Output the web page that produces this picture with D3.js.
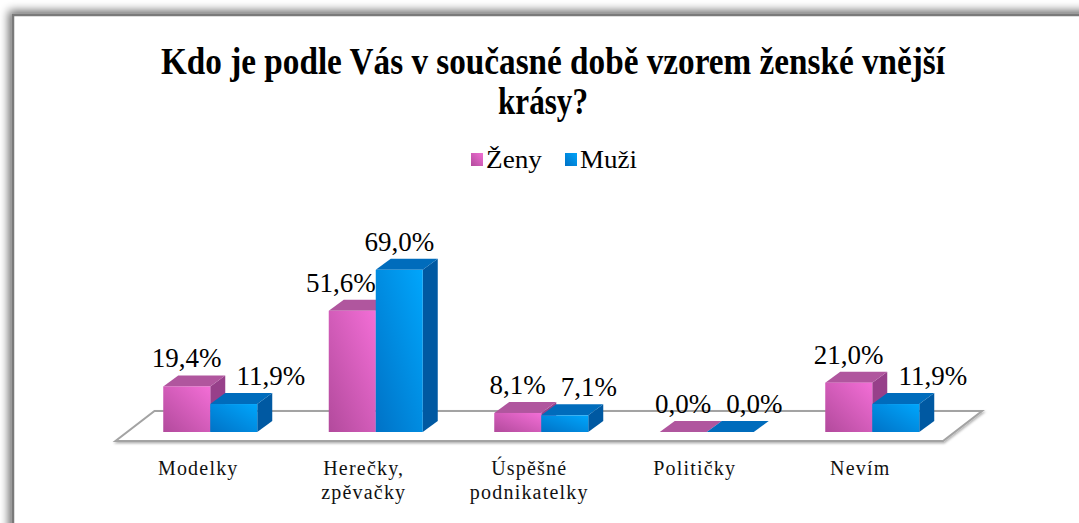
<!DOCTYPE html>
<html><head><meta charset="utf-8">
<script src="https://cdn.jsdelivr.net/npm/d3@7"></script>
<style>html,body{margin:0;padding:0;background:#fff;overflow:hidden}</style>
</head><body>
<svg id="chart" width="1079" height="523"></svg>
<script>
const titleLines = ["Kdo je podle Vás v současné době vzorem ženské vnější", "krásy?"];
const categories = ["Modelky", "Herečky, zpěvačky", "Úspěšné podnikatelky", "Političky", "Nevím"];
const seriesNames = ["Ženy", "Muži"];
const zeny = [19.4, 51.6, 8.1, 0.0, 21.0];
const muzi = [11.9, 69.0, 7.1, 0.0, 11.9];
const yDomain = [0, 80];

const svg = d3.select("#chart");
const defs = svg.append("defs");

// frame shadow
const f = defs.append("filter").attr("id","sh").attr("x","-10%").attr("y","-10%").attr("width","120%").attr("height","120%");
f.append("feGaussianBlur").attr("in","SourceAlpha").attr("stdDeviation",5).attr("result","b");
f.append("feOffset").attr("in","b").attr("dx",-3).attr("dy",-3).attr("result","o");
f.append("feComponentTransfer").attr("in","o").attr("result","o2")
  .append("feFuncA").attr("type","linear").attr("slope",0.6);
const fm = f.append("feMerge"); fm.append("feMergeNode").attr("in","o2"); fm.append("feMergeNode").attr("in","SourceGraphic");

svg.append("rect").attr("x",13).attr("y",15).attr("width",1120).attr("height",600)
  .attr("fill","#fff").attr("stroke","#7a7a7a").attr("stroke-width",2.5).attr("filter","url(#sh)");

// gradients
function grad(id, c1, c2){
  const g = defs.append("linearGradient").attr("id",id).attr("x1","0").attr("y1","1").attr("x2","1").attr("y2","0");
  g.append("stop").attr("offset","0").attr("stop-color",c1);
  g.append("stop").attr("offset","1").attr("stop-color",c2);
}
grad("gP","#b24a9c","#f36ed6");
grad("gB","#0072c6","#00a6fc");
grad("gPl","#b24a9c","#f070d4");
grad("gBl","#0070c4","#00a4fa");
const colors = {
  "Ženy": {front:"url(#gP)", top:"#b0569e", side:"#97408a", legend:"url(#gPl)"},
  "Muži": {front:"url(#gB)", top:"#006cbc", side:"#0059a2", legend:"url(#gBl)"}
};

// title
const title = svg.append("g").attr("font-family","Liberation Serif, Times New Roman, serif")
  .attr("font-weight","bold").attr("font-size",38).attr("text-anchor","middle").attr("fill","#000");
title.append("text").attr("x",553).attr("y",74).attr("textLength",784).attr("lengthAdjust","spacingAndGlyphs").text(titleLines[0]);
title.append("text").attr("x",543).attr("y",114).attr("textLength",90).attr("lengthAdjust","spacingAndGlyphs").text(titleLines[1]);

// legend
const legend = svg.append("g").attr("font-family","Liberation Serif, Times New Roman, serif").attr("font-size",26);
const legX = [471, 565];
seriesNames.forEach((s,i)=>{
  legend.append("rect").attr("x",legX[i]).attr("y",153).attr("width",12).attr("height",13).attr("fill",colors[s].legend);
  legend.append("text").attr("x",legX[i]+15).attr("y",168).attr("textLength",i===0?56:57).attr("lengthAdjust","spacingAndGlyphs").text(s);
});

// scales
const base = 432;
const x0 = d3.scaleBand().domain(categories).range([127.5, 955]).paddingInner(0.432).paddingOuter(0.216);
const x1 = d3.scaleBand().domain(seriesNames).range([0, x0.bandwidth()]);
const y = d3.scaleLinear().domain(yDomain).range([base, base - 188]);
const dX = 15, dY = -11;

// floor
const fl = x0.range()[0], fr = x0.range()[1];
const floorPts = [[fl-12, base+9],[fr-12, base+9],[fr+27, base-21],[fl+27, base-21]];
const fs = defs.append("filter").attr("id","fsh").attr("x","-5%").attr("y","-50%").attr("width","110%").attr("height","200%");
fs.append("feDropShadow").attr("dx",1).attr("dy",1.5).attr("stdDeviation",1).attr("flood-color","#000").attr("flood-opacity",0.3);
svg.append("polygon").attr("points",floorPts.map(p=>p.join(",")).join(" "))
  .attr("fill","#fff").attr("stroke","#a3a3a3").attr("stroke-width",2).attr("filter","url(#fsh)");

// bars
const data = categories.map((c,i)=>({cat:c, vals:[{s:"Ženy",v:zeny[i]},{s:"Muži",v:muzi[i]}]}));
const barsG = svg.append("g");
data.forEach(d=>{
  d.vals.forEach(b=>{
    const x = x0(d.cat) + x1(b.s), w = x1.bandwidth(), top = y(b.v);
    const g = barsG.append("g");
    const c = colors[b.s];
    g.append("polygon").attr("points",[[x+w,base],[x+w+dX,base+dY],[x+w+dX,top+dY],[x+w,top]].map(p=>p.join(",")).join(" ")).attr("fill",c.side);
    g.append("polygon").attr("points",[[x,top],[x+w,top],[x+w+dX,top+dY],[x+dX,top+dY]].map(p=>p.join(",")).join(" ")).attr("fill",c.top);
    if (base-top>0) g.append("rect").attr("x",x).attr("y",top).attr("width",w).attr("height",base-top).attr("fill",c.front);
  });
});

// data labels
const fmt = v => d3.format(".1f")(v).replace(".",",")+"%";
const lblG = svg.append("g").attr("font-family","Liberation Serif, Times New Roman, serif").attr("font-size",27).attr("fill","#000");
const lh = 26;
data.forEach(d=>{
  const [p,m] = d.vals;
  const xp = x0(d.cat)+x1(p.s), xm = x0(d.cat)+x1(m.s), w = x1.bandwidth();
  const byP = y(p.v)+dY-8, byM = y(m.v)+dY-8;
  const tp = lblG.append("text").attr("y",byP).text(fmt(p.v));
  const tm = lblG.append("text").attr("y",byM).text(fmt(m.v));
  const wp = tp.node().getComputedTextLength(), wm = tm.node().getComputedTextLength();
  let lp = xp + w/2 - wp/2;
  if (y(m.v)+dY < byP && lp + wp > xm) lp = xm - wp;
  let lm = xm + w/2 - wm/2;
  if (Math.abs(byM - byP) < lh && lm < lp + wp + 15) lm = lp + wp + 15;
  tp.attr("x",lp); tm.attr("x",lm);
});

// category labels
const catG = svg.append("g").attr("font-family","Liberation Serif, Times New Roman, serif").attr("font-size",20)
  .attr("letter-spacing","1.2px").attr("fill","#111").attr("text-anchor","middle");
categories.forEach(c=>{
  const cx = x0(c) + x0.bandwidth()/2 - 12;
  const t = catG.append("text").attr("x",cx).attr("y",475);
  c.split(" ").forEach((part,i)=>{
    t.append("tspan").attr("x",cx).attr("dy", i===0?0:24).text(part);
  });
});
</script>
</body></html>
